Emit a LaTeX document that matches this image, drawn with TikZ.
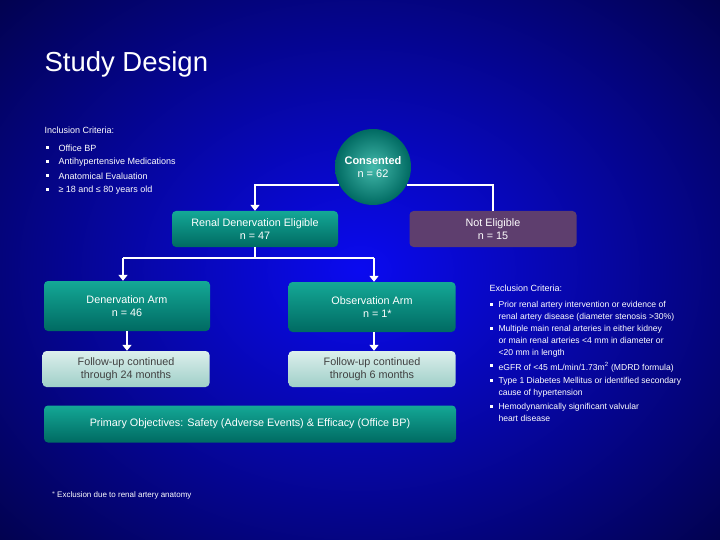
\documentclass[tikz,border=0pt]{standalone}
\usepackage{fontspec}
\setmainfont{Liberation Sans}
\usetikzlibrary{arrows.meta}
\begin{document}
\begin{tikzpicture}[x=1pt,y=-1pt,
  box/.style={rounded corners=4pt,top color=tealtop,bottom color=tealbot,draw=none,text=white,align=center,font=\fontsize{10.8}{13}\selectfont},
  pale/.style={rounded corners=4pt,top color=paletop,bottom color=palebot,draw=none,text=black!75,align=center,font=\fontsize{10.8}{13}\selectfont},
  conn/.style={white,line width=2pt},
  arr/.style={conn,-{Triangle[width=9pt,length=6pt]}},
  small/.style={text=white,font=\fontsize{9}{12}\selectfont,anchor=west,align=left},
  exs/.style={text=white,font=\fontsize{8.6}{11.8}\selectfont,anchor=north west,align=left},
  bul/.style={fill=white,minimum size=3pt,inner sep=0pt}]
\definecolor{tealtop}{HTML}{14A896}
\definecolor{tealbot}{HTML}{006A62}
\definecolor{paletop}{HTML}{DCEFEC}
\definecolor{palebot}{HTML}{9FCFC8}
\definecolor{purp}{HTML}{5E3E6E}
\useasboundingbox (0,0) rectangle (720,540);
\shade[inner color={rgb,255:red,10;green,10;blue,240},outer color={rgb,255:red,0;green,0;blue,40}] (-260,-220) rectangle (980,760);
\node[text=white,font=\fontsize{27.5}{32}\selectfont,anchor=west] (title) at (41,64) {Study Design};
\node[small] (inc) at (41,130) {Inclusion Criteria:};
\foreach \y/\t [count=\i] in {148/Office BP,162/Antihypertensive Medications,176/Anatomical Evaluation,190/≥ 18 and ≤ 80 years old}{
  \node[bul] (ib\i) at (47,\y) {};
  \node[small] (it\i) at (55,\y) {\t};}
\node[circle,minimum size=76pt,inner color=tealtop!80!white,outer color=tealbot,text=white,align=center,font=\fontsize{11}{13}\selectfont] (cons) at (373,167) {\textbf{Consented}\\n = 62};
\node[box,minimum width=166pt,minimum height=36pt] (ren) at (255,229) {Renal Denervation Eligible\\n = 47};
\node[rounded corners=4pt,fill=purp,text=white,align=center,font=\fontsize{10.8}{13}\selectfont,minimum width=167pt,minimum height=36pt] (ne) at (493,229) {Not Eligible\\n = 15};
\node[box,minimum width=166pt,minimum height=50pt] (den) at (127,306) {Denervation Arm\\n = 46};
\node[box,minimum width=167pt,minimum height=50pt] (obs) at (372,307) {Observation Arm\\\hspace*{1em}n = 1*};
\node[pale,minimum width=167pt,minimum height=36pt] (f1) at (126,369) {Follow-up continued\\through 24 months};
\node[pale,minimum width=167pt,minimum height=36pt] (f2) at (372,369) {Follow-up continued\\through 6 months};
\node[box,minimum width=412pt,minimum height=37pt] (po) at (250,424) {Primary Objectives: Safety (Adverse Events) \& Efficacy (Office BP)};
\node[text=white,font=\fontsize{8}{9}\selectfont,anchor=west] (fn) at (48,495) {$^{*}$\,Exclusion due to renal artery anatomy};
\draw[arr] (cons.208) -| (ren.north);
\draw[conn] (cons.332) -| (ne.north);
\coordinate (jl) at (123,258); \coordinate (jr) at (374,258);
\draw[conn] (ren.south) -- (255,258);
\draw[conn] (jl) -- (jr);
\draw[arr] (jl) -- (den.north -| jl);
\draw[arr] (jr) -- (obs.north -| jr);
\draw[arr] (den.south) -- (f1.north -| den.south);
\draw[arr] (obs.south -| jr) -- (f2.north -| jr);
\node[small] (exc) at (486,288) {Exclusion Criteria:};
\foreach \y/\t [count=\i] in {305/{Prior renal artery intervention or evidence of\\renal artery disease (diameter stenosis >30\%)},329/{Multiple main renal arteries in either kidney\\or main renal arteries <4 mm in diameter or\\<20 mm in length},366/{eGFR of <45 mL/min/1.73m\textsuperscript{2} (MDRD formula)},381/{Type 1 Diabetes Mellitus or identified secondary\\cause of hypertension},407/{Hemodynamically significant valvular\\heart disease}}{
  \node[exs] (et\i) at (495,\y-7) {\t};
  \node[bul] (eb\i) at (491,\y-1) {};}
\end{tikzpicture}
\end{document}
